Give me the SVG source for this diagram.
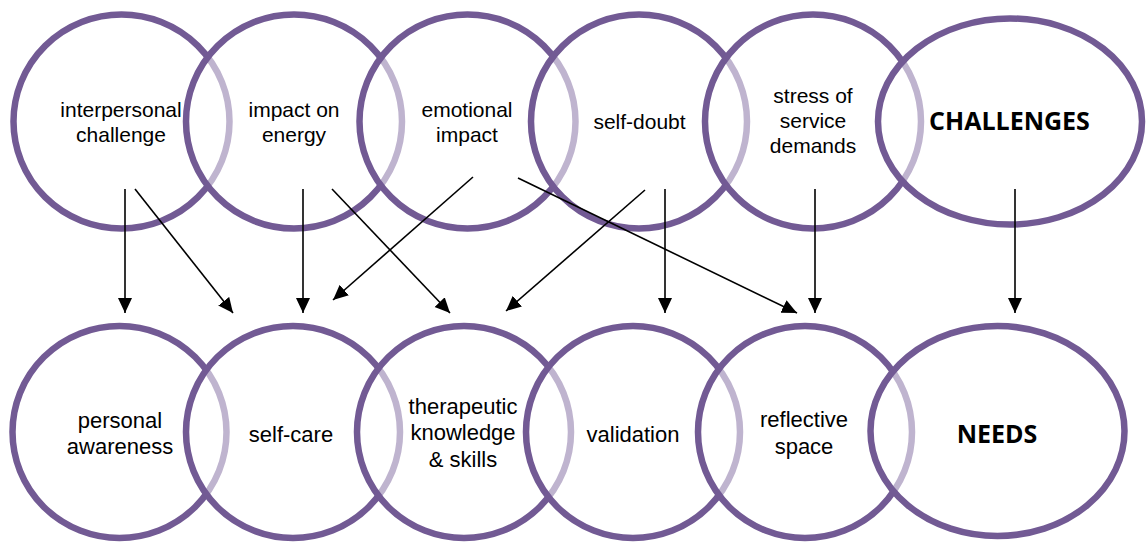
<svg xmlns="http://www.w3.org/2000/svg" width="1147" height="543" viewBox="0 0 1147 543">
<defs>
<style>
.c{fill:#fff;fill-opacity:0.55;stroke:#725A94;stroke-width:6.5}
.t{font-family:"Liberation Sans",Arial,sans-serif;font-size:21px;fill:#000;text-anchor:middle}
.b{font-family:"Liberation Sans",Arial,sans-serif;font-size:22px;fill:#000;text-anchor:middle}
.h{font-family:"Open Sans","Noto Sans",sans-serif;font-weight:bold;font-size:25px;fill:#000;text-anchor:middle}
.a{stroke:#000;stroke-width:1.6;fill:none;marker-end:url(#ah)}
</style>
<marker id="ah" markerUnits="userSpaceOnUse" markerWidth="16" markerHeight="15" refX="15" refY="7" orient="auto">
<path d="M0,0 L15,7 L0,14 z" fill="#000"/>
</marker>
</defs>
<rect width="1147" height="543" fill="#fff"/>
<g id="top-row">
<g id="interpersonal-challenge"><ellipse class="c" cx="121.5" cy="121.5" rx="108" ry="107"/><text class="t" x="121" y="117">interpersonal</text><text class="t" x="121" y="142">challenge</text></g>
<g id="impact-on-energy"><ellipse class="c" cx="294" cy="121.5" rx="108" ry="107"/><text class="t" x="294" y="117">impact on</text><text class="t" x="294" y="142">energy</text></g>
<g id="emotional-impact"><ellipse class="c" cx="467.5" cy="121.5" rx="108" ry="107"/><text class="t" x="467" y="117">emotional</text><text class="t" x="467" y="142">impact</text></g>
<g id="self-doubt"><ellipse class="c" cx="639" cy="121.5" rx="108" ry="107"/><text class="t" x="639.5" y="129">self-doubt</text></g>
<g id="stress-of-service-demands"><ellipse class="c" cx="813" cy="121.5" rx="108" ry="107"/><text class="t" x="813" y="103">stress of</text><text class="t" x="813" y="128">service</text><text class="t" x="813" y="153">demands</text></g>
<g id="challenges"><ellipse class="c" cx="1010" cy="121.5" rx="132" ry="103"/><text class="h" x="1009.5" y="130">CHALLENGES</text></g>
</g>
<g id="bottom-row">
<g id="personal-awareness"><ellipse class="c" cx="119.5" cy="432" rx="107" ry="106"/><text class="b" x="120" y="428">personal</text><text class="b" x="120" y="454">awareness</text></g>
<g id="self-care"><ellipse class="c" cx="293" cy="432" rx="107" ry="106"/><text class="b" x="291" y="442">self-care</text></g>
<g id="therapeutic-knowledge-skills"><ellipse class="c" cx="464" cy="432" rx="107" ry="106"/><text class="b" x="463" y="414">therapeutic</text><text class="b" x="463" y="440">knowledge</text><text class="b" x="463" y="467">&amp; skills</text></g>
<g id="validation"><ellipse class="c" cx="633" cy="432" rx="107" ry="106"/><text class="b" x="633" y="442">validation</text></g>
<g id="reflective-space"><ellipse class="c" cx="805" cy="432" rx="107" ry="106"/><text class="b" x="804" y="427">reflective</text><text class="b" x="804" y="454">space</text></g>
<g id="needs"><ellipse class="c" cx="997.5" cy="431" rx="127" ry="105"/><text class="h" x="997" y="443">NEEDS</text></g>
</g>
<g id="connectors">
<line class="a" x1="125" y1="189" x2="125" y2="313"/>
<line class="a" x1="135" y1="189" x2="233" y2="313"/>
<line class="a" x1="303" y1="189" x2="303" y2="313"/>
<line class="a" x1="473" y1="177" x2="333" y2="300"/>
<line class="a" x1="332" y1="189" x2="450" y2="313"/>
<line class="a" x1="518" y1="178" x2="797" y2="313"/>
<line class="a" x1="645" y1="190" x2="506" y2="311"/>
<line class="a" x1="665" y1="189" x2="665" y2="313"/>
<line class="a" x1="815" y1="189" x2="815" y2="313"/>
<line class="a" x1="1015" y1="189" x2="1015" y2="313"/>
</g>
</svg>
